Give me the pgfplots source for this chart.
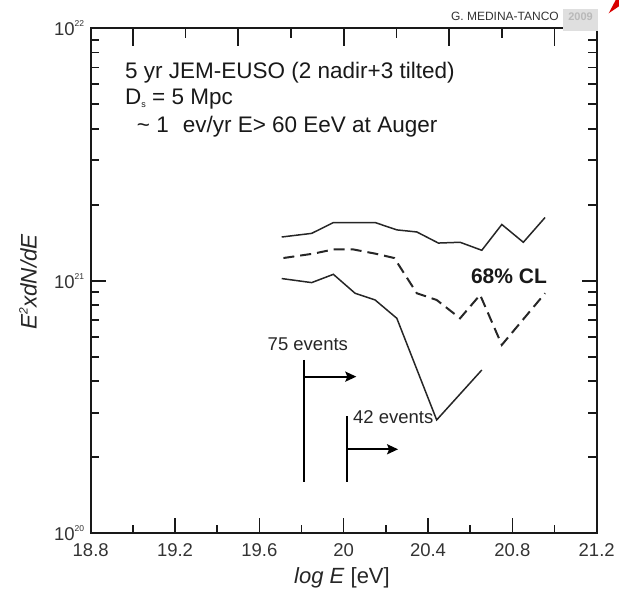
\documentclass[border=0pt]{standalone}
\usepackage{fontspec}
\setmainfont{Liberation Sans}
\usepackage{pgfplots}
\pgfplotsset{compat=1.18}
\usetikzlibrary{arrows.meta}

\newcommand{\fsz}[1]{\fontsize{#1}{#1}\selectfont}
\newcommand{\pten}[1]{10\raisebox{9pt}{\fsz{8.5}#1}}

\begin{document}
\begin{tikzpicture}
\begin{axis}[
  scale only axis, width=506pt, height=505pt,
  xmin=18.8, xmax=21.2, ymin=1e20, ymax=1e22, ymode=log,
  axis line style={line width=1.8pt, black!90},
  xtick={18.8,19.2,19.6,20,20.4,20.8,21.2},
  xticklabels={18.8,19.2,19.6,20,20.4,20.8,21.2},
  minor xtick={19,19.4,19.8,20.2,20.6,21},
  xtick pos=bottom,
  ytick={1e20,1e21,1e22},
  yticklabels={\pten{20},\pten{21},\pten{22}},
  minor ytick={2e20,3e20,4e20,5e20,6e20,7e20,8e20,9e20,
               2e21,3e21,4e21,5e21,6e21,7e21,8e21,9e21},
  tick align=inside,
  major tick length=15pt, minor tick length=8.5pt,
  every tick/.style={black!90, line width=1.6pt},
  tick label style={font=\fsz{18.5}, text=black!80},
  xticklabel style={yshift=-7pt},
  yticklabel style={xshift=-3pt},
  /pgf/number format/assume math mode=true,
  clip=false,
]
% upper and lower 68% CL bounds, median (dashed)
\addplot[black!85, line width=1.5pt] coordinates {
  (19.706,1.49e21) (19.848,1.54e21) (19.951,1.70e21) (20.05,1.70e21)
  (20.149,1.70e21) (20.252,1.59e21) (20.347,1.56e21) (20.449,1.41e21)
  (20.552,1.42e21) (20.655,1.32e21) (20.75,1.67e21) (20.852,1.42e21)
  (20.955,1.78e21)};
\addplot[black!85, line width=2pt, dash pattern=on 11pt off 6pt] coordinates {
  (19.714,1.23e21) (19.856,1.28e21) (19.951,1.33e21) (20.046,1.33e21)
  (20.15,1.28e21) (20.24,1.23e21) (20.347,8.92e20) (20.441,8.39e20)
  (20.552,7.10e20) (20.647,8.79e20) (20.75,5.57e20) (20.955,8.92e20)};
\addplot[black!85, line width=1.5pt] coordinates {
  (19.706,1.02e21) (19.848,9.83e20) (19.951,1.06e21) (20.054,8.92e20)
  (20.149,8.39e20) (20.252,7.10e20) (20.441,2.81e20) (20.655,4.43e20)};

% event thresholds
\addplot[black, line width=2pt] coordinates {(19.81,4.86e20) (19.81,1.59e20)};
\addplot[black, line width=2pt, -{Stealth[length=11pt,width=10pt,inset=2pt]}]
  coordinates {(19.81,4.17e20) (20.06,4.17e20)};
\addplot[black, line width=2pt] coordinates {(20.017,2.91e20) (20.017,1.59e20)};
\addplot[black, line width=2pt, -{Stealth[length=11pt,width=10pt,inset=2pt]}]
  coordinates {(20.017,2.15e20) (20.258,2.15e20)};

\node[font=\fsz{18.5}, text=black!85] at (axis cs:19.83,5.62e20) {75 events};
\node[anchor=west, inner sep=0pt, font=\fsz{18.5}, text=black!85]
  at (axis cs:20.044,2.89e20) {42 events};
\node[font=\fsz{21}\bfseries, text=black!90] at (axis cs:20.784,1.038e21) {68\% CL};

% annotation block
\node[anchor=base west, inner sep=0pt, font=\fsz{22.5}, text=black!90]
  at (rel axis cs:0.0678,0.901) {5 yr JEM-EUSO (2 nadir+3 tilted)};
\node[anchor=base west, inner sep=0pt, font=\fsz{22.5}, text=black!90]
  at (rel axis cs:0.0678,0.8495) {D\raisebox{-3pt}{\fsz{9}s} = 5 Mpc};
\node[anchor=base west, inner sep=0pt, font=\fsz{22.5}, text=black!90]
  at (rel axis cs:0.0909,0.7933) {\textasciitilde\ 1\hspace{14pt}ev/yr E> 60 EeV at Auger};

% axis titles
\node[rotate=90, font=\fsz{22.5}\itshape, text=black!85]
  at (rel axis cs:-0.124,0.4976) {E\raisebox{9pt}{\fsz{12}2}xdN/dE};
\node[font=\fsz{22}, text=black!85]
  at (rel axis cs:0.4966,-0.0885) {\textit{log E} [eV]};

% credit line
\node[anchor=east, inner sep=0pt, font=\fsz{12}, text=black!80]
  at (rel axis cs:0.9255,1.023) {G. MEDINA-TANCO};
\end{axis}

% top axis with its own tick spacing
\begin{axis}[
  scale only axis, width=506pt, height=505pt,
  xmin=18.8, xmax=21.2, ymin=1e20, ymax=1e22, ymode=log,
  axis x line*=top, axis y line=none,
  axis line style={line width=1.8pt, black!90, -},
  xtick={19,19.5,20,20.5,21},
  minor xtick={19.25,19.75,20.25,20.75},
  xticklabels={},
  tick align=inside,
  major tick length=18pt, minor tick length=10pt,
  every tick/.style={black!90, line width=1.6pt},
  clip=false,
]
\fill[gray!25] (rel axis cs:0.9334,0.9947) rectangle (rel axis cs:1.0026,1.0382);
\node[font=\fsz{11}\bfseries, text=gray!55] at (rel axis cs:0.968,1.0228) {2009};
\end{axis}

\fill[red!85!black] (518pt,520pt) -- (525pt,533.3pt) -- (528.3pt,533.3pt) -- (528.3pt,527pt) -- cycle;
\path[use as bounding box] (-90.7pt,-62.7pt) rectangle (528.3pt,533.3pt);
\end{tikzpicture}
\end{document}
